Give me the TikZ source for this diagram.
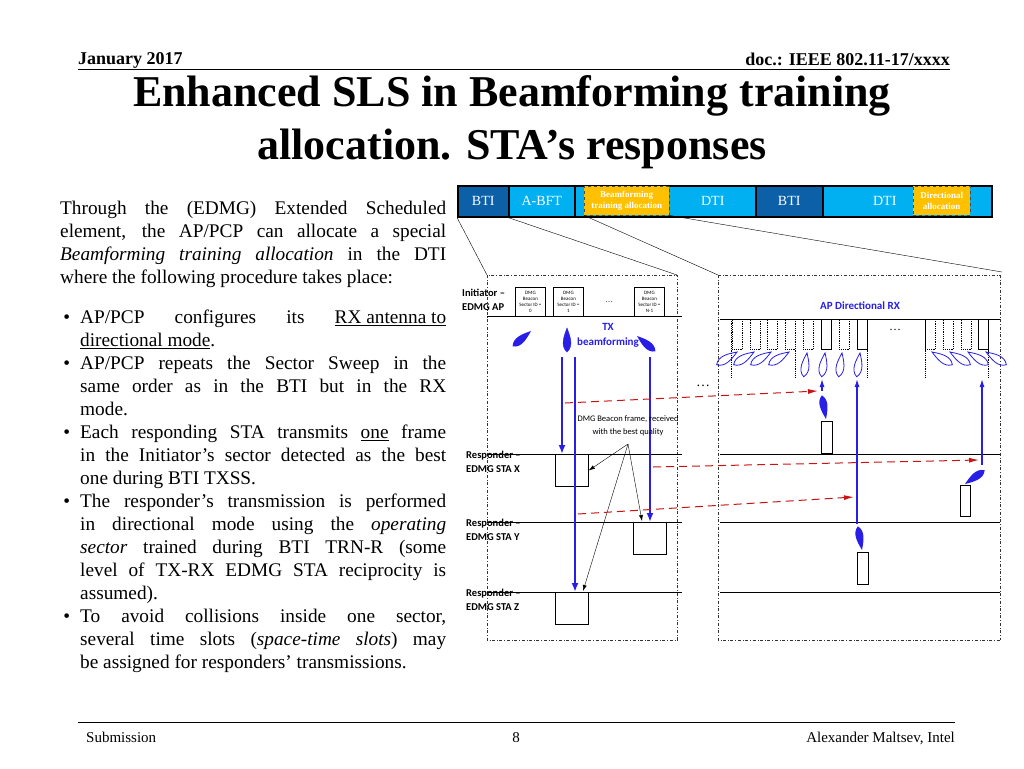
\documentclass[tikz,border=0pt]{standalone}
\usepackage{fontspec}
\setmainfont{Liberation Serif}
\newfontfamily\calfont{Carlito}
\usetikzlibrary{arrows.meta}
\definecolor{dkb}{RGB}{12,96,168}
\definecolor{ltb}{RGB}{0,176,240}
\definecolor{org}{RGB}{255,192,0}
\definecolor{bl}{RGB}{40,30,230}
\definecolor{rd}{RGB}{200,20,20}
\newcommand{\bul}{\leavevmode\llap{•\hspace{10pt}}}
\tikzset{
 seg/.style={draw=black,line width=1.5pt,anchor=north west,inner sep=0pt,text=white,font=\fontsize{14}{14}\selectfont},
 orbox/.style={fill=org,draw=black!70,dashed,anchor=north west,inner sep=0pt,text=white,font=\bfseries\fontsize{9}{11}\selectfont,align=center},
 panel/.style={draw=black!80,dash dot,thin},
 bcn/.style={draw,thick,anchor=north west,minimum width=30,minimum height=29,inner sep=0pt,align=center,font=\calfont\fontsize{5}{6}\selectfont},
 rbox/.style={draw,thick,anchor=north west,inner sep=0pt},
 lbl/.style={font=\calfont\bfseries\fontsize{10.5}{14}\selectfont,align=left,anchor=west,inner sep=0pt},
 bluearr/.style={bl,line width=2.5pt,-{Latex[length=9,width=7]}},
 thinarr/.style={bl,line width=1.2pt,-{Latex[length=8,width=5]}},
 redarr/.style={rd,dashed,dash pattern=on 8pt off 5pt,line width=1pt,-{Latex[length=10,width=5]}},
 body/.style={anchor=north west,inner sep=0pt,align=justify,font=\fontsize{19.3}{23}\selectfont},
 slotd/.style={draw,densely dotted,thick,anchor=north west,minimum width=10,minimum height=30,inner sep=0pt},
 slots/.style={draw,thick,anchor=north west,minimum width=10,minimum height=30,inner sep=0pt},
 lobe/.pic={\path[pic actions] (0,0) .. controls (3,8) and (7,18) .. (0,24) .. controls (-7,18) and (-3,8) .. (0,0) -- cycle;},
}
\begin{document}
\begin{tikzpicture}[x=1pt,y=-1pt]
\useasboundingbox[fill=white] (0,0) rectangle (1024,768);
% header
\node[anchor=base west,inner sep=0,font=\bfseries\fontsize{18}{18}\selectfont] (hd1) at (78,64) {January 2017};
\node[anchor=base east,inner sep=0,font=\bfseries\fontsize{18}{18}\selectfont] (hd2) at (950,66) {doc.: IEEE 802.11-17/xxxx};
\draw[thick] (78,69) -- (950,69);
\node[font=\bfseries\fontsize{44}{53}\selectfont,align=center,inner sep=0] (title) at (512,122) {Enhanced SLS in Beamforming training\\allocation. STA’s responses};
% footer
\draw (78,722) -- (955,722);
\node[anchor=base west,inner sep=0,font=\fontsize{15}{15}\selectfont] (f1) at (86,742) {Submission};
\node[anchor=base,inner sep=0,font=\fontsize{15}{15}\selectfont] (f2) at (516,742) {8};
\node[anchor=base east,inner sep=0,font=\fontsize{15}{15}\selectfont] (f3) at (955,742) {Alexander Maltsev, Intel};
% body text
\node[body,text width=386] (p0) at (60,201) {Through the (EDMG) Extended Scheduled\linebreak element, the AP/PCP can allocate a special\linebreak \emph{Beamforming training allocation} in the DTI\linebreak where the following procedure takes place:};
\node[body,text width=366] (t1) at (80,310) {\bul AP/PCP configures its \underline{RX antenna to}\linebreak \underline{directional mode}.};
\node[body,text width=366] (t2) at (80,356) {\bul AP/PCP repeats the Sector Sweep in the\linebreak same order as in the BTI but in the RX\linebreak mode.};
\node[body,text width=366] (t3) at (80,425) {\bul Each responding STA transmits \underline{one} frame\linebreak in the Initiator’s sector detected as the best\linebreak one during BTI TXSS.};
\node[body,text width=366] (t4) at (80,494) {\bul The responder’s transmission is performed\linebreak in directional mode using the \emph{operating}\linebreak \emph{sector} trained during BTI TRN-R (some\linebreak level of TX-RX EDMG STA reciprocity is\linebreak assumed).};
\node[body,text width=366] (t5) at (80,609) {\bul To avoid collisions inside one sector,\linebreak several time slots (\emph{space-time slots}) may\linebreak be assigned for responders’ transmissions.};
% top bar
\fill[ltb] (457,185) rectangle (991,216);
\node[seg,fill=dkb,minimum width=51,minimum height=31] (bti1) at (457,185) {BTI};
\node[seg,fill=ltb,minimum width=66,minimum height=31] (abft) at (508,185) {A-BFT};
\node[seg,fill=ltb,minimum width=181,minimum height=31] (dti1) at (574,185) {\hspace*{95pt}DTI};
\node[seg,fill=dkb,minimum width=67,minimum height=31] (bti2) at (755,185) {BTI};
\node[seg,fill=ltb,minimum width=169,minimum height=31] (dti2) at (822,185) {\hspace*{25pt}DTI\hspace*{70pt}};
\node[orbox,minimum width=85,minimum height=29] (ba) at (584,186) {Beamforming\\training allocation};
\node[orbox,minimum width=57,minimum height=29] (da) at (913,186) {Directional\\allocation};
% panels
\coordinate (pl1) at (487,275); \coordinate (pl2) at (677,275);
\coordinate (pr1) at (718,275); \coordinate (pr2) at (1002,272);
\draw[thin] (bti1.south west) -- (pl1);
\draw[thin] (abft.south west) -- (pl2);
\draw[thin] (ba.south west) -- (pr1);
\draw[thin] (ba.south east) -- (pr2);
\draw[panel] (487,275) rectangle (677,640);
\draw[panel] (718,275) -- (1000,275) (718,275) -- (718,640) -- (1000,640) (1000,275) -- (1000,640);
% left panel
\node[lbl] (ini) at (462,300) {Initiator –\\EDMG AP};
\draw[thick] (487,316) -- (682,316);
\node[bcn] (bc0) at (515,287) {DMG\\Beacon\\Sector ID =\\0};
\node[bcn] (bc1) at (553,287) {DMG\\Beacon\\Sector ID =\\1};
\node[bcn] (bc2) at (634,287) {DMG\\Beacon\\Sector ID =\\N-1};
\node[font=\fontsize{8}{8}\selectfont] (dd1) at (609,302) {…};
\node[font=\calfont\bfseries\fontsize{11}{15}\selectfont,text=bl,align=center] (txb) at (608,335) {TX\\beamforming};
\pic[fill=bl,rotate=-50] at (531,331) {lobe};
\pic[fill=bl,draw=bl] at (567,328) {lobe};
\pic[fill=bl,rotate=50] at (637,336) {lobe};
\foreach \y/\n/\t in {454/X,522/Y,592/Z}{
  \draw[thick] (487,\y) -- (682,\y);
  \draw[thick] (720,\y) -- (1000,\y);
  \node[lbl] (r\n) at (466,\y+8) {Responder –\\EDMG STA \n};
}
\node[rbox,minimum width=33,minimum height=32] (bx) at (555,454) {};
\node[rbox,minimum width=33,minimum height=32] (by) at (633,522) {};
\node[rbox,minimum width=33,minimum height=32] (bz) at (555,592) {};
\coordinate (a1) at (562,357); \coordinate (a2) at (575,357); \coordinate (a3) at (650,357);
\draw[bluearr] (a1) -- (bx.north west-|a1);
\draw[bluearr] (a2) -- (bz.north west-|a2);
\draw[bluearr] (a3) -- (by.north west-|a3);
\node[font=\calfont\fontsize{8.5}{13}\selectfont,align=center] (dmgq) at (628,426) {DMG Beacon frame, received\\with the best quality};
\coordinate (qq) at (628,444);
\draw[-{Latex[length=6,width=4]}] (qq) -- (bx.east);
\draw[-{Latex[length=6,width=4]}] (qq) -- (642,521);
\draw[-{Latex[length=6,width=4]}] (qq) -- (583,591);
\node[font=\fontsize{14}{14}\selectfont] (dd2) at (703,386) {…};
% right panel
\node[font=\calfont\bfseries\fontsize{11}{11}\selectfont,text=bl] (apdr) at (860,306) {AP Directional RX};
\draw[thick] (720,319) -- (1000,319);
\foreach \x in {732,750,767,785,803,839,925,943,961}{\node[slotd] at (\x,319) {};}
\node[slots] (s1) at (821,319) {};
\node[slots] (s2) at (857,319) {};
\node[slots] (s3) at (978,319) {};
\node[font=\fontsize{12}{12}\selectfont] (dd3) at (895,330) {…};
\foreach \x in {731,795,867,925,988}{\draw[densely dotted,thick] (\x,319) -- (\x,378);}
\foreach \x in {737,754,771,789}{\pic[draw=bl,thick,rotate=-58] at (\x,352) {lobe};}
\foreach \x in {807,825,842,860}{\pic[draw=bl,thick,rotate=-8] at (\x,353) {lobe};}
\foreach \x in {932,950,968,986}{\pic[draw=bl,thick,rotate=58] at (\x,352) {lobe};}
% responses
\node[rbox,minimum width=11,minimum height=32] (rx) at (821,421) {};
\pic[fill=bl,rotate=190] at (826,419) {lobe};
\draw[thinarr] (822,391) -- (822,379);
\node[rbox,minimum width=11,minimum height=32] (ry) at (857,552) {};
\pic[fill=bl,rotate=190] at (862,550) {lobe};
\draw[thinarr] (857,524) -- (857,379);
\node[rbox,minimum width=10,minimum height=31] (rz) at (960,485) {};
\pic[fill=bl,rotate=125] at (965,484) {lobe};
\draw[thinarr] (982,465) -- (982,379);
\draw[redarr] (565,403) -- (818,391);
\draw[redarr] (653,467) -- (979,460);
\draw[redarr] (578,514) -- (854,497);
\end{tikzpicture}
\end{document}
